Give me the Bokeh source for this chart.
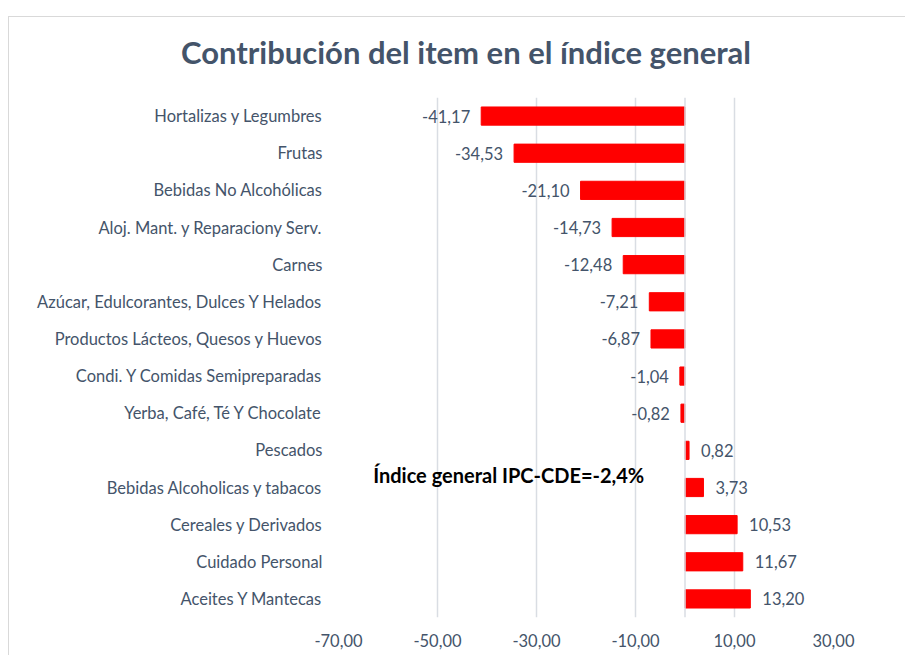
from bokeh.plotting import figure
from bokeh.models import FactorRange, Range1d, FixedTicker, Span, Label, Div
from bokeh.layouts import column
from bokeh.embed import file_html
from bokeh.resources import INLINE

categories = [
    "Hortalizas y Legumbres",
    "Frutas",
    "Bebidas No Alcohólicas",
    "Aloj. Mant. y Reparaciony Serv.",
    "Carnes",
    "Azúcar, Edulcorantes, Dulces Y Helados",
    "Productos Lácteos, Quesos y Huevos",
    "Condi. Y Comidas Semipreparadas",
    "Yerba, Café, Té Y Chocolate",
    "Pescados",
    "Bebidas Alcoholicas y tabacos",
    "Cereales y Derivados",
    "Cuidado Personal",
    "Aceites Y Mantecas",
]
values = [-41.17, -34.53, -21.10, -14.73, -12.48, -7.21, -6.87, -1.04, -0.82,
          0.82, 3.73, 10.53, 11.67, 13.20]
x_ticks = [-70, -50, -30, -10, 10, 30]
x_tick_labels = ["-70,00", "-50,00", "-30,00", "-10,00", "10,00", "30,00"]
title_text = "Contribución del item en el índice general"
note_text = "Índice general IPC-CDE=-2,4%"

TEXT = "#44546A"
GRID = "#D9DDE3"
FONT = "Lato"

title = Div(text=title_text, width=896, height=50,
            styles={"font-family": FONT, "font-size": "31px", "color": TEXT,
                    "font-weight": "bold",
                    "line-height": "36px", "padding-top": "12px",
                    "padding-left": "24px", "text-align": "center",
                    "text-indent": "8px",
                    "width": "872px", "white-space": "nowrap"})

p = figure(width=896, height=578,
           y_range=FactorRange(factors=categories[::-1]),
           x_range=Range1d(-70, 30),
           output_backend="svg", toolbar_location=None,
           min_border_left=329, min_border_right=72,
           min_border_top=20, min_border_bottom=38)
p.outline_line_color = None

p.hbar(y=categories, left=0, right=values, height=0.49, color="#FF0000")

neg_c = [c for c, v in zip(categories, values) if v < 0]
neg_v = [v for v in values if v < 0]
pos_c = [c for c, v in zip(categories, values) if v >= 0]
pos_v = [v for v in values if v >= 0]
fmt = lambda v: f"{v:.2f}".replace(".", ",")
p.text(x=neg_v, y=neg_c, text=[fmt(v) for v in neg_v], x_offset=-11,
       text_align="right", text_baseline="middle", text_font_size="16.5px",
       text_color=TEXT, text_font={"value": FONT})
p.text(x=pos_v, y=pos_c, text=[fmt(v) for v in pos_v], x_offset=12,
       text_align="left", text_baseline="middle", text_font_size="16.5px",
       text_color=TEXT, text_font={"value": FONT})

p.add_layout(Span(location=0, dimension="height", line_color=GRID, line_width=1.5))

p.add_layout(Label(x=-63, y=3.85, text=note_text, text_font=FONT,
                   text_font_size="20px", text_font_style="bold",
                   text_color="black", text_baseline="middle"))

p.xaxis.ticker = FixedTicker(ticks=x_ticks)
p.xaxis.major_label_overrides = dict(zip(x_ticks, x_tick_labels))
p.xgrid.ticker = FixedTicker(ticks=x_ticks)
p.xgrid.grid_line_color = GRID
p.xgrid.grid_line_width = 1.5
p.ygrid.grid_line_color = None
for ax in (p.xaxis, p.yaxis):
    ax.axis_line_color = None
    ax.major_tick_line_color = None
    ax.minor_tick_line_color = None
    ax.major_label_text_color = TEXT
    ax.major_label_text_font = FONT
    ax.major_label_text_font_size = "16.5px"
p.xaxis.major_label_standoff = 10
p.yaxis.major_label_standoff = 10

layout = column(title, p, spacing=0)
layout.margin = (16, 0, 0, 8)
layout.styles = {"border-top": "1px solid #D9D9D9", "border-left": "1px solid #D9D9D9"}

open("out.html", "w").write(file_html(layout, INLINE))
